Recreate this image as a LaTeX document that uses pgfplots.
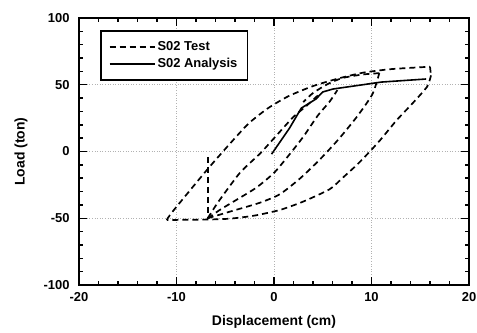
\documentclass[border=0pt]{standalone}
\usepackage{pgfplots}
\pgfplotsset{compat=1.18}
\usepackage{fontspec}
\setmainfont{Liberation Sans}
\begin{document}
\begin{tikzpicture}
\begin{axis}[
  name=ax,
  scale only axis, width=390bp, height=267bp,
  xmin=-20,xmax=20,ymin=-100,ymax=100,
  xtick={-20,-10,...,20}, ytick={-100,-50,...,100},
  minor x tick num=4, minor y tick num=4,
  tick align=inside, major tick length=8bp, minor tick length=4bp,
  tick style={line width=1.5bp, black},
  axis line style={line width=1.8bp},
  grid=major, grid style={dotted, gray!60, line width=0.6bp},
  major grid style={dotted, gray!60, line width=0.6bp},
  ticklabel style={font=\fontsize{13}{15}\selectfont\bfseries},
  xticklabel style={yshift=-4bp},
  yticklabel style={xshift=-6bp},
  /pgf/number format/assume math mode=true,
  xlabel={Displacement (cm)}, ylabel={Load (ton)},
  every axis x label/.style={at={(axis description cs:0.5,0)}, anchor=center, yshift=-37bp, font=\fontsize{14}{16}\selectfont\bfseries},
  every axis y label/.style={at={(axis description cs:0,0.5)}, xshift=-58bp, anchor=center, rotate=90, font=\fontsize{14}{16}\selectfont\bfseries},
  legend cell align=left,
  legend style={at={(0.054,0.955)}, anchor=north west, draw=black, line width=1.5bp,
    font=\fontsize{13}{15}\selectfont\bfseries, inner xsep=8bp, inner ysep=9bp, row sep=2bp},
  legend image code/.code={\draw[#1] (0bp,0bp) -- (45bp,0bp);},
  tdash/.style={black, line width=1.7bp, dash pattern=on 6bp off 4bp},
]
% outer top branch (Test)
\addplot[tdash, smooth, tension=0.4] coordinates {
(-11,-51.3) (-10.4,-45) (-6.9,-14) (-4.5,6) (-2.6,21) (-0.6,32.5) (1.5,41.5) (4,49) (6.5,54.5) (9.1,59) (12,61.7) (16,63.5)};
\addlegendentry{S02 Test}
% analysis
\addplot[black, line width=1.6bp] coordinates {
(-0.25,-2) (1.6,17.6) (2.8,32.5) (4.3,39.3) (5.0,44.6) (6.05,46.8) (11.0,52) (15.6,54.3)};
\addlegendentry{S02 Analysis}
% remaining test branches
\addplot[tdash, forget plot] coordinates {(16,63.5) (16.1,57)};
\addplot[tdash, smooth, tension=0.4, forget plot] coordinates {
(16.1,57) (15.7,48.5) (14.2,36) (12.6,23.6) (10.9,8.6) (9.7,-1) (8.5,-10) (7,-20) (5.7,-28.3) (3,-37.5) (0.6,-43.8) (-2,-48) (-4.5,-50.3) (-7,-51) (-11,-51.3)};
\addplot[tdash, forget plot] coordinates {(-6.8,-4) (-6.8,-50.5)};
\addplot[tdash, smooth, tension=0.4, forget plot] coordinates {
(-6.8,-50) (-4.5,-45) (-1.5,-38.5) (0.6,-32) (2.7,-20) (4.7,-6) (6.6,9) (8.5,26) (10.1,43) (10.8,58.7)};
\addplot[tdash, smooth, tension=0.4, forget plot] coordinates {
(10.8,58.7) (9,57.6) (7,55) (5.5,50.5) (4,43.8) (3,37)};
\addplot[tdash, smooth, tension=0.4, forget plot] coordinates {
(-6.8,-50) (-5.5,-43.5) (-3.8,-36) (-1.8,-27) (0,-16) (1.5,-3) (3,11) (4.5,27) (5.7,37.3) (6.5,46)};
\addplot[tdash, smooth, tension=0.4, forget plot] coordinates {
(-6.8,-50) (-5.7,-37.6) (-3.5,-16) (-1.4,-1.3) (0.5,14) (2,26) (3.3,34) (4.5,42)};
\end{axis}
\pgfresetboundingbox
\path (ax.south west) ++(-79bp,-48bp) coordinate (bl);
\path (ax.north east) ++(8bp,18bp) coordinate (tr);
\useasboundingbox (bl) rectangle (tr);
\end{tikzpicture}
\end{document}
